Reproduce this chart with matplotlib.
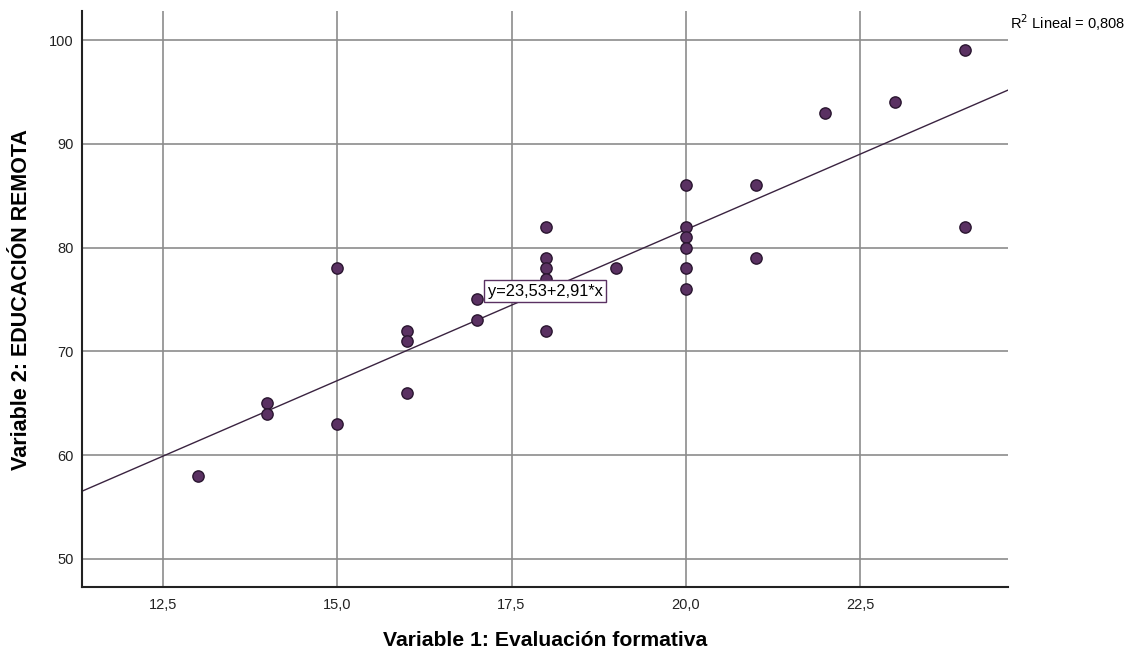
import matplotlib
matplotlib.use("Agg")
import matplotlib.pyplot as plt
import numpy as np

plt.rcParams['font.family'] = ['Liberation Sans', 'DejaVu Sans']

x_vals = [13, 14, 14, 15, 15, 16, 16, 16, 17, 17, 18, 18, 18, 18, 18, 19,
          20, 20, 20, 20, 20, 20, 21, 21, 22, 23, 24, 24]
y_vals = [58, 65, 64, 78, 63, 72, 71, 66, 75, 73, 82, 79, 78, 77, 72, 78,
          86, 82, 81, 80, 78, 76, 86, 79, 93, 94, 99, 82]
intercept = 23.53
slope = 2.91
x_ticks = [12.5, 15.0, 17.5, 20.0, 22.5]
x_tick_labels = ["12,5", "15,0", "17,5", "20,0", "22,5"]
y_ticks = [50, 60, 70, 80, 90, 100]
eq_label = "y=23,53+2,91*x"
r2_label = "R$^2$ Lineal = 0,808"

fig = plt.figure(figsize=(11.34, 6.55), dpi=100)
ax = fig.add_axes([0.0723, 0.1038, 0.8166, 0.8795])
xlim = (11.34, 24.62)
ylim = (47.3, 102.8)
ax.set_xlim(*xlim)
ax.set_ylim(*ylim)

ax.set_xticks(x_ticks)
ax.set_xticklabels(x_tick_labels)
ax.set_yticks(y_ticks)
ax.grid(True, color='#8c8c8c', linewidth=1.2, zorder=0)
ax.tick_params(length=0, labelsize=10.5, colors='#222222', pad=8)
ax.tick_params(axis='y', pad=6)

for s in ['top', 'right']:
    ax.spines[s].set_visible(False)
for s in ['left', 'bottom']:
    ax.spines[s].set_linewidth(1.5)
    ax.spines[s].set_color('#222222')

lx = np.array(xlim)
ax.plot(lx, intercept + slope * lx, color='#3a2340', linewidth=1.0, zorder=2)

ax.scatter(x_vals, y_vals, s=66, color='#5a3162', edgecolors='#2a1630',
           linewidths=1.0, zorder=3)

ax.text(17.16, 75.8, eq_label, fontsize=11.8, ha='left', va='center', zorder=4,
        bbox=dict(boxstyle='square,pad=0.22', facecolor='white',
                  edgecolor='#5a3162', linewidth=1.0))

fig.text(1010 / 1134, 1 - 23 / 655, r2_label, fontsize=10.5, ha='left', va='center')

ax.set_xlabel("Variable 1: Evaluación formativa", fontsize=15.2, fontweight='bold')
ax.set_ylabel("Variable 2: EDUCACIÓN REMOTA", fontsize=15.5, fontweight='bold')
ax.xaxis.set_label_coords((545 - 82) / 926, (587 - 641) / 577)
ax.yaxis.set_label_coords((22 - 82) / 926, (587 - 299) / 577)
ax.xaxis.label.set_va('center')
ax.yaxis.label.set_va('center')

fig.savefig("out.png", dpi=100)
